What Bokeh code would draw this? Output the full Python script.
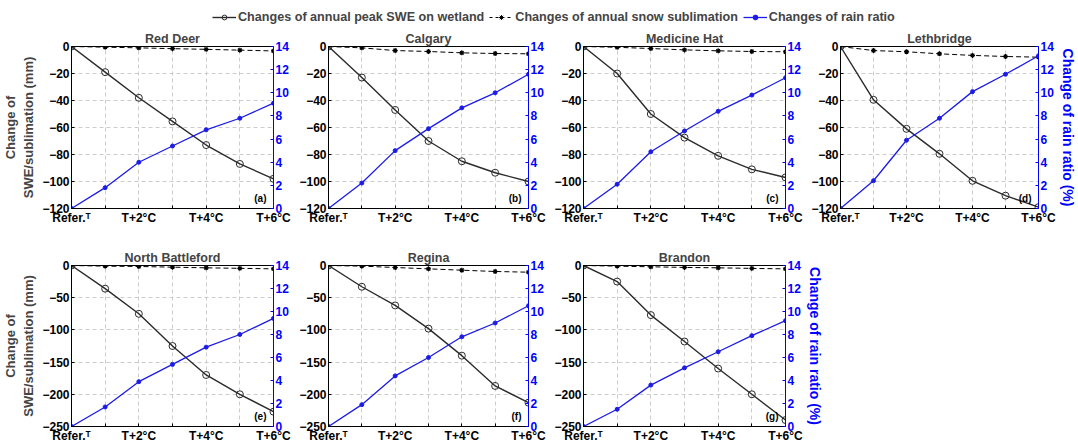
from bokeh.plotting import figure
from bokeh.layouts import column, row
from bokeh.models import Range1d, LinearAxis, FixedTicker, Legend, LegendItem, Label
from bokeh.embed import file_html
from bokeh.resources import INLINE

# ---------------- data ----------------
scenarios = [0, 1, 2, 3, 4, 5, 6]
x_tick_labels = {0: "Refer.ᵀ", 1: "", 2: "T+2°C", 3: "", 4: "T+4°C", 5: "", 6: "T+6°C"}
stations = ["Red Deer", "Calgary", "Medicine Hat", "Lethbridge",
            "North Battleford", "Regina", "Brandon"]
panel_tags = ["(a)", "(b)", "(c)", "(d)", "(e)", "(f)", "(g)"]

swe_red_deer = [0, -19, -38, -55.5, -73, -87, -98]
swe_calgary = [0, -23, -47, -70, -85, -93.5, -100]
swe_medicine_hat = [0, -20, -50, -67.5, -81, -91, -97]
swe_lethbridge = [0, -39.5, -61, -79.5, -99.5, -110.5, -119]
swe_north_battleford = [0, -36, -75, -125, -170, -200, -227]
swe_regina = [0, -33, -62, -98, -140, -187, -213]
swe_brandon = [0, -25, -77, -118, -160, -200, -240]

subl_red_deer = [0, -0.5, -1, -1.6, -2.1, -2.7, -3.3]
subl_calgary = [0, -1, -3, -3.7, -4.7, -5.2, -5.4]
subl_medicine_hat = [0, -0.6, -1.5, -2.5, -3.2, -3.7, -3.9]
subl_lethbridge = [0, -3, -3.9, -5.4, -6.6, -7.4, -7.9]
subl_north_battleford = [0, -1, -1.5, -2.6, -3.6, -4.4, -5.2]
subl_regina = [0, -1, -3.1, -5.2, -7.3, -9.3, -10.4]
subl_brandon = [0, -1, -2, -3, -3.6, -4.5, -5.2]

rain_red_deer = [0, 1.8, 4.0, 5.4, 6.8, 7.8, 9.1]
rain_calgary = [0, 2.2, 5.0, 6.9, 8.7, 10.0, 11.6]
rain_medicine_hat = [0, 2.1, 4.9, 6.7, 8.4, 9.8, 11.3]
rain_lethbridge = [0, 2.4, 5.9, 7.8, 10.1, 11.6, 13.2]
rain_north_battleford = [0, 1.7, 3.9, 5.4, 6.9, 8.0, 9.4]
rain_regina = [0, 1.9, 4.4, 6.0, 7.8, 9.0, 10.5]
rain_brandon = [0, 1.5, 3.6, 5.1, 6.5, 7.9, 9.2]

swe_all = [swe_red_deer, swe_calgary, swe_medicine_hat, swe_lethbridge,
           swe_north_battleford, swe_regina, swe_brandon]
subl_all = [subl_red_deer, subl_calgary, subl_medicine_hat, subl_lethbridge,
            subl_north_battleford, subl_regina, subl_brandon]
rain_all = [rain_red_deer, rain_calgary, rain_medicine_hat, rain_lethbridge,
            rain_north_battleford, rain_regina, rain_brandon]

left_ticks_top = [-120, -100, -80, -60, -40, -20, 0]
left_ticks_bottom = [-250, -200, -150, -100, -50, 0]
right_ticks = [0, 2, 4, 6, 8, 10, 12, 14]

legend_labels = ["Changes of annual peak SWE on wetland",
                 "Changes of annual snow sublimation",
                 "Changes of rain ratio"]

# ---------------- styles ----------------
FONT = "Liberation Sans"
SWE_COLOR = "#2b2b2b"
RAIN_COLOR = "#1c1ce6"
AXIS_BLUE = "#0000ff"
GRID_COLOR = "#cccccc"


def style_axis(ax, color="black"):
    ax.axis_line_color = color
    ax.axis_line_width = 1
    ax.major_tick_line_color = color
    ax.major_tick_in = 3
    ax.major_tick_out = 0
    ax.minor_tick_line_color = None
    ax.major_label_text_font = FONT
    ax.major_label_text_font_style = "bold"
    ax.major_label_text_font_size = "12px"
    ax.major_label_text_color = color
    ax.major_label_standoff = 2
    ax.axis_label_standoff = 0


def make_panel(i, left_ticks, w, h, bl, br, bt, bb, left_label, right_label):
    ymin = left_ticks[0]
    p = figure(width=w, height=h,
               x_range=Range1d(scenarios[0], scenarios[-1]),
               y_range=Range1d(ymin, left_ticks[-1]),
               output_backend="svg", toolbar_location=None,
               min_border_left=bl, min_border_right=br,
               min_border_top=bt, min_border_bottom=bb,
               title=stations[i])
    p.title.align = "center"
    p.title.text_font = FONT
    p.title.text_font_style = "bold"
    p.title.text_font_size = "12.5px"
    p.title.offset = 0
    p.title.standoff = 1
    p.outline_line_color = "black"
    p.outline_line_width = 1
    p.background_fill_color = "white"
    p.border_fill_color = "white"

    p.extra_y_ranges = {"rain": Range1d(right_ticks[0], right_ticks[-1])}

    p.xaxis.ticker = FixedTicker(ticks=scenarios)
    p.xaxis.major_label_overrides = x_tick_labels
    p.yaxis.ticker = FixedTicker(ticks=left_ticks)
    style_axis(p.xaxis[0])
    style_axis(p.yaxis[0])
    if left_label:
        p.yaxis.axis_label = "Change of\nSWE/sublimation (mm)"
        p.yaxis.axis_label_text_font = FONT
        p.yaxis.axis_label_text_font_style = "bold"
        p.yaxis.axis_label_text_font_size = "13px"
        p.yaxis.axis_label_standoff = 3

    rax = LinearAxis(y_range_name="rain", ticker=FixedTicker(ticks=right_ticks))
    style_axis(rax, AXIS_BLUE)
    if right_label:
        rax.axis_label = "Change of rain ratio (%)"
        rax.axis_label_text_font = FONT
        rax.axis_label_text_font_style = "bold"
        rax.axis_label_text_font_size = "14px"
        rax.axis_label_text_color = AXIS_BLUE
        rax.axis_label_standoff = 3
    p.add_layout(rax, "right")

    p.xgrid.ticker = FixedTicker(ticks=scenarios[1:-1])
    p.xgrid.grid_line_color = GRID_COLOR
    p.xgrid.grid_line_dash = "4 3"
    p.ygrid.grid_line_color = GRID_COLOR
    p.ygrid.grid_line_dash = "4 3"

    # sublimation
    p.line(scenarios, subl_all[i], line_color="black", line_width=1, line_dash="5 3")
    p.scatter(scenarios, subl_all[i], marker="asterisk", size=5, line_color="black", line_width=1.2)
    # SWE
    p.line(scenarios, swe_all[i], line_color=SWE_COLOR, line_width=1.4)
    p.scatter(scenarios, swe_all[i], marker="circle", size=7, line_color=SWE_COLOR,
              fill_color=None, line_width=1)
    # rain ratio
    p.line(scenarios, rain_all[i], line_color=RAIN_COLOR, line_width=1.3, y_range_name="rain")
    p.scatter(scenarios, rain_all[i], marker="circle", size=4, line_color=RAIN_COLOR,
              fill_color=RAIN_COLOR, y_range_name="rain")

    p.add_layout(Label(x=scenarios[-1], y=ymin, x_offset=-7, y_offset=5,
                       text=panel_tags[i], text_align="right", text_baseline="bottom",
                       text_font=FONT, text_font_style="bold", text_font_size="10px",
                       text_color="black"))
    return p


# top row (fixed outer sizes so that panels sit at the reference positions)
pa = make_panel(0, left_ticks_top, 296, 202, 71, 23, 18, 22, True, False)
pb = make_panel(1, left_ticks_top, 255, 202, 32, 23, 18, 22, False, False)
pc = make_panel(2, left_ticks_top, 257, 202, 32, 23, 18, 22, False, False)
pd = make_panel(3, left_ticks_top, 270, 202, 32, 38, 18, 22, False, True)
# bottom row
pe = make_panel(4, left_ticks_bottom, 296, 216, 71, 23, 35, 20, True, False)
pf = make_panel(5, left_ticks_bottom, 255, 216, 32, 23, 35, 20, False, False)
pg = make_panel(6, left_ticks_bottom, 274, 216, 32, 40, 35, 20, False, True)

# legend strip (series drawn out of view; only the legend is visible)
pl = figure(width=1078, height=28, output_backend="svg", toolbar_location=None,
            x_range=Range1d(100, 101), y_range=Range1d(100, 101),
            min_border_left=0, min_border_right=0, min_border_top=0, min_border_bottom=0)
pl.axis.visible = False
pl.grid.visible = False
pl.outline_line_color = None
r1l = pl.line(scenarios, swe_red_deer, line_color=SWE_COLOR, line_width=1.4)
r1s = pl.scatter(scenarios, swe_red_deer, marker="circle", size=6, line_color=SWE_COLOR, fill_color=None)
r2l = pl.line(scenarios, subl_red_deer, line_color="black", line_width=1, line_dash="3 3")
r2s = pl.scatter(scenarios, subl_red_deer, marker="asterisk", size=5, line_color="black")
r3l = pl.line(scenarios, rain_red_deer, line_color=RAIN_COLOR, line_width=1.3)
r3s = pl.scatter(scenarios, rain_red_deer, marker="circle", size=4, line_color=RAIN_COLOR, fill_color=RAIN_COLOR)
leg = Legend(items=[LegendItem(label=legend_labels[0], renderers=[r1l, r1s]),
                    LegendItem(label=legend_labels[1], renderers=[r2l, r2s]),
                    LegendItem(label=legend_labels[2], renderers=[r3l, r3s])],
             orientation="horizontal", location=(212, 4),
             label_text_font=FONT, label_text_font_style="bold", label_text_font_size="12.6px",
             glyph_width=24, glyph_height=12, label_standoff=2, spacing=5,
             padding=0, margin=0, border_line_color=None, background_fill_alpha=0)
pl.add_layout(leg, "center")

layout = column(pl, row(pa, pb, pc, pd), row(pe, pf, pg))

with open("out.html", "w") as f:
    f.write(file_html(layout, INLINE))
